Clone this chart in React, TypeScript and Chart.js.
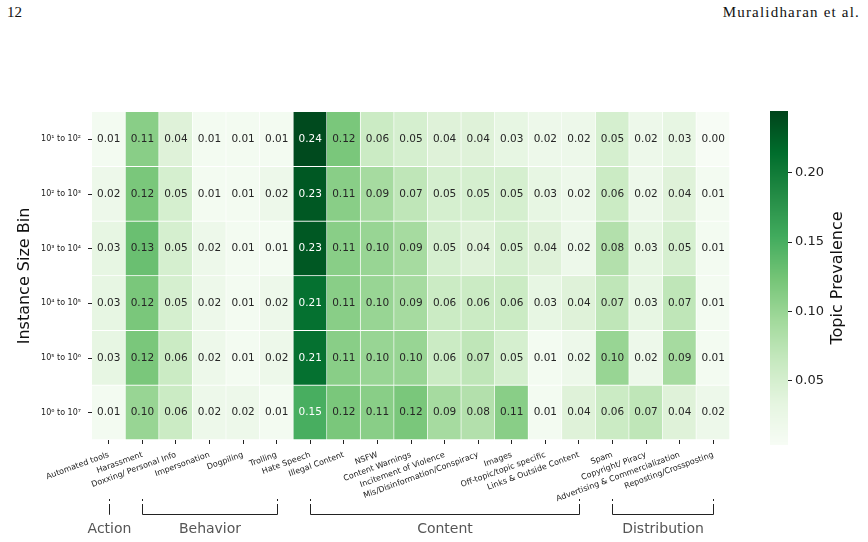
import React, { useEffect, useRef } from "react";
import { Chart, registerables } from "chart.js";

Chart.register(...registerables);

// ---------- data ----------
const columns = [
  "Automated tools",
  "Harassment",
  "Doxxing/ Personal Info",
  "Impersonation",
  "Dogpiling",
  "Trolling",
  "Hate Speech",
  "Illegal Content",
  "NSFW",
  "Content Warnings",
  "Incitement of Violence",
  "Mis/Disinformation/Conspiracy",
  "Images",
  "Off-topic/topic specific",
  "Links & Outside Content",
  "Spam",
  "Copyright/ Piracy",
  "Advertising & Commercialization",
  "Reposting/Crossposting",
];

const rowLabels = ["10¹ to 10²", "10² to 10³", "10³ to 10⁴", "10⁴ to 10⁵", "10⁵ to 10⁶", "10⁶ to 10⁷"];

const bin1to2 = [0.01, 0.11, 0.04, 0.01, 0.01, 0.01, 0.24, 0.12, 0.06, 0.05, 0.04, 0.04, 0.03, 0.02, 0.02, 0.05, 0.02, 0.03, 0.0];
const bin2to3 = [0.02, 0.12, 0.05, 0.01, 0.01, 0.02, 0.23, 0.11, 0.09, 0.07, 0.05, 0.05, 0.05, 0.03, 0.02, 0.06, 0.02, 0.04, 0.01];
const bin3to4 = [0.03, 0.13, 0.05, 0.02, 0.01, 0.01, 0.23, 0.11, 0.1, 0.09, 0.05, 0.04, 0.05, 0.04, 0.02, 0.08, 0.03, 0.05, 0.01];
const bin4to5 = [0.03, 0.12, 0.05, 0.02, 0.01, 0.02, 0.21, 0.11, 0.1, 0.09, 0.06, 0.06, 0.06, 0.03, 0.04, 0.07, 0.03, 0.07, 0.01];
const bin5to6 = [0.03, 0.12, 0.06, 0.02, 0.01, 0.02, 0.21, 0.11, 0.1, 0.1, 0.06, 0.07, 0.05, 0.01, 0.02, 0.1, 0.02, 0.09, 0.01];
const bin6to7 = [0.01, 0.1, 0.06, 0.02, 0.02, 0.01, 0.15, 0.12, 0.11, 0.12, 0.09, 0.08, 0.11, 0.01, 0.04, 0.06, 0.07, 0.04, 0.02];
const rows = [bin1to2, bin2to3, bin3to4, bin4to5, bin5to6, bin6to7];

const groupNames = ["Action", "Behavior", "Content", "Distribution"];
const groupStart = [0, 1, 6, 15];
const groupEnd = [0, 5, 14, 18];

const colorbarTicks = [0.05, 0.1, 0.15, 0.2];
const vmin = 0.0036;
const vmax = 0.2445;

// ---------- colour map (matplotlib Greens) ----------
const greens = [
  [0.968627, 0.988235, 0.960784],
  [0.898039, 0.960784, 0.878431],
  [0.780392, 0.913725, 0.752941],
  [0.631373, 0.85098, 0.607843],
  [0.454902, 0.768627, 0.462745],
  [0.254902, 0.670588, 0.364706],
  [0.137255, 0.545098, 0.270588],
  [0.0, 0.427451, 0.172549],
  [0.0, 0.266667, 0.105882],
];

function cmapRGB(v: number): number[] {
  let t = (v - vmin) / (vmax - vmin);
  t = Math.max(0, Math.min(1, t));
  const p = t * (greens.length - 1);
  const i = Math.min(greens.length - 2, Math.floor(p));
  const f = p - i;
  return [0, 1, 2].map((k) => greens[i][k] + (greens[i + 1][k] - greens[i][k]) * f);
}
function rgbStr(c: number[]) {
  return `rgb(${Math.round(c[0] * 255)},${Math.round(c[1] * 255)},${Math.round(c[2] * 255)})`;
}
function luminance(c: number[]) {
  const lin = c.map((x) => (x <= 0.03928 ? x / 12.92 : Math.pow((x + 0.055) / 1.055, 2.4)));
  return 0.2126 * lin[0] + 0.7152 * lin[1] + 0.0722 * lin[2];
}

const FONT = "'DejaVu Sans', sans-serif";

export default function App() {
  const heatRef = useRef<HTMLCanvasElement | null>(null);
  const cbRef = useRef<HTMLCanvasElement | null>(null);

  useEffect(() => {
    Chart.defaults.font.family = FONT;

    const annotate = {
      id: "annotate",
      afterDatasetsDraw(chart: any) {
        const ctx = chart.ctx;
        ctx.save();
        ctx.font = `10.5px ${FONT}`;
        ctx.textAlign = "center";
        ctx.textBaseline = "middle";
        chart.data.datasets.forEach((ds: any, di: number) => {
          const meta = chart.getDatasetMeta(di);
          meta.data.forEach((el: any, ci: number) => {
            const v = rows[di][ci];
            const c = cmapRGB(v);
            ctx.fillStyle = luminance(c) > 0.408 ? "#262626" : "#ffffff";
            const cy = (el.y + el.base) / 2;
            ctx.fillText(v.toFixed(2), el.x, cy);
          });
        });
        ctx.restore();
      },
      afterDraw(chart: any) {
        const ctx = chart.ctx;
        const xs = chart.scales.x;
        ctx.save();
        ctx.strokeStyle = "#222";
        ctx.lineWidth = 1;
        const yDot = 499;
        const yTop = 504;
        const yLine = 514.5;
        groupNames.forEach((name, gi) => {
          const x1 = Math.round(xs.getPixelForValue(groupStart[gi])) + 0.5;
          const x2 = Math.round(xs.getPixelForValue(groupEnd[gi])) + 0.5;
          ctx.beginPath();
          ctx.moveTo(x1, yDot);
          ctx.lineTo(x1, yDot + 2);
          ctx.moveTo(x2, yDot);
          ctx.lineTo(x2, yDot + 2);
          ctx.moveTo(x1, yTop);
          ctx.lineTo(x1, yLine);
          ctx.lineTo(x2, yLine);
          ctx.lineTo(x2, yTop);
          ctx.stroke();
          ctx.fillStyle = "#555";
          ctx.font = `14px ${FONT}`;
          ctx.textAlign = "center";
          ctx.textBaseline = "middle";
          ctx.fillText(name, (x1 + x2) / 2, 529.5);
        });
        ctx.restore();
      },
    };

    const datasets = rows.map((vals, r) => ({
      label: rowLabels[r],
      data: vals.map(() => [r, r + 1]),
      backgroundColor: vals.map((v) => rgbStr(cmapRGB(v))),
      borderColor: "#ffffff",
      borderWidth: { top: 0, left: 0, right: 1, bottom: 1 },
      borderSkipped: false,
      barPercentage: 1,
      categoryPercentage: 1,
      grouped: false,
    }));

    const heat = new Chart(heatRef.current as HTMLCanvasElement, {
      type: "bar",
      data: { labels: columns, datasets: datasets as any },
      plugins: [annotate as any],
      options: {
        responsive: false,
        animation: false,
        events: [],
        layout: { padding: { left: 0, top: 112, right: 138, bottom: 0 } },
        plugins: { legend: { display: false }, tooltip: { enabled: false } },
        scales: {
          x: {
            type: "category",
            grid: { display: true, drawOnChartArea: false, drawTicks: true, tickLength: 4, tickColor: "#222", offset: false },
            border: { display: false },
            ticks: {
              autoSkip: false,
              minRotation: 20,
              maxRotation: 20,
              padding: 6,
              color: "#222",
              font: { size: 8, family: FONT },
            },
            afterFit: (s: any) => {
              s.height = 102;
            },
          },
          y: {
            type: "linear",
            min: 0,
            max: 6,
            reverse: true,
            grid: { display: true, drawOnChartArea: false, drawTicks: true, tickLength: 4, tickColor: "#222" },
            border: { display: false },
            afterBuildTicks: (s: any) => {
              s.ticks = rowLabels.map((_, i) => ({ value: i + 0.5 }));
            },
            ticks: {
              autoSkip: false,
              padding: 7,
              color: "#222",
              font: { size: 8, family: FONT },
              callback: (_v: any, i: number) => rowLabels[i],
            },
            title: {
              display: true,
              text: "Instance Size Bin",
              color: "#111",
              font: { size: 16, family: FONT },
              padding: { top: 15, bottom: 0 },
            },
            afterFit: (s: any) => {
              s.width = 92;
            },
          },
        },
      } as any,
    });

    const cbPlugin = {
      id: "colorbar",
      beforeDatasetsDraw(chart: any) {
        const ctx = chart.ctx;
        const { left, right, top, bottom } = chart.chartArea;
        const ys = chart.scales.y;
        ctx.save();
        for (let py = Math.floor(top); py < Math.ceil(bottom); py++) {
          const v = ys.getValueForPixel(py + 0.5);
          ctx.fillStyle = rgbStr(cmapRGB(v));
          ctx.fillRect(left, py, right - left, 1);
        }
        ctx.restore();
      },
      afterDraw(chart: any) {
        const ctx = chart.ctx;
        const { top, bottom } = chart.chartArea;
        ctx.save();
        ctx.translate(838, (top + bottom) / 2);
        ctx.rotate(-Math.PI / 2);
        ctx.fillStyle = "#111";
        ctx.font = `16px ${FONT}`;
        ctx.textAlign = "center";
        ctx.textBaseline = "middle";
        ctx.fillText("Topic Prevalence", 0, 0);
        ctx.restore();
      },
    };

    const cb = new Chart(cbRef.current as HTMLCanvasElement, {
      type: "scatter",
      data: { datasets: [{ data: [] }] },
      plugins: [cbPlugin as any],
      options: {
        responsive: false,
        animation: false,
        events: [],
        layout: { padding: { left: 770, top: 111, right: 0, bottom: 97 } },
        plugins: { legend: { display: false }, tooltip: { enabled: false } },
        scales: {
          x: { display: false, min: 0, max: 1 },
          y: {
            position: "right",
            min: vmin,
            max: vmax,
            grid: { display: true, drawOnChartArea: false, drawTicks: true, tickLength: 4, tickColor: "#222" },
            border: { display: false },
            afterBuildTicks: (s: any) => {
              s.ticks = colorbarTicks.map((v) => ({ value: v }));
            },
            ticks: {
              padding: 3,
              color: "#222",
              font: { size: 13, family: FONT },
              callback: (v: any) => Number(v).toFixed(2),
            },
            afterFit: (s: any) => {
              s.width = 80;
            },
          },
        },
      } as any,
    });

    return () => {
      heat.destroy();
      cb.destroy();
    };
  }, []);

  const headerStyle: React.CSSProperties = {
    position: "absolute",
    top: 3,
    fontFamily: "'Liberation Serif', serif",
    fontSize: 15,
    lineHeight: "18px",
    color: "#111",
  };

  return (
    <div style={{ position: "absolute", left: 0, top: 0, width: 868, height: 542, background: "#fff", overflow: "hidden" }}>
      <div style={{ ...headerStyle, left: 7 }}>12</div>
      <div style={{ ...headerStyle, right: 8, letterSpacing: "1.2px" }}>Muralidharan et al.</div>
      <canvas ref={heatRef} width={868} height={542} style={{ position: "absolute", left: 0, top: 0 }} />
      <canvas ref={cbRef} width={868} height={542} style={{ position: "absolute", left: 0, top: 0 }} />
    </div>
  );
}
